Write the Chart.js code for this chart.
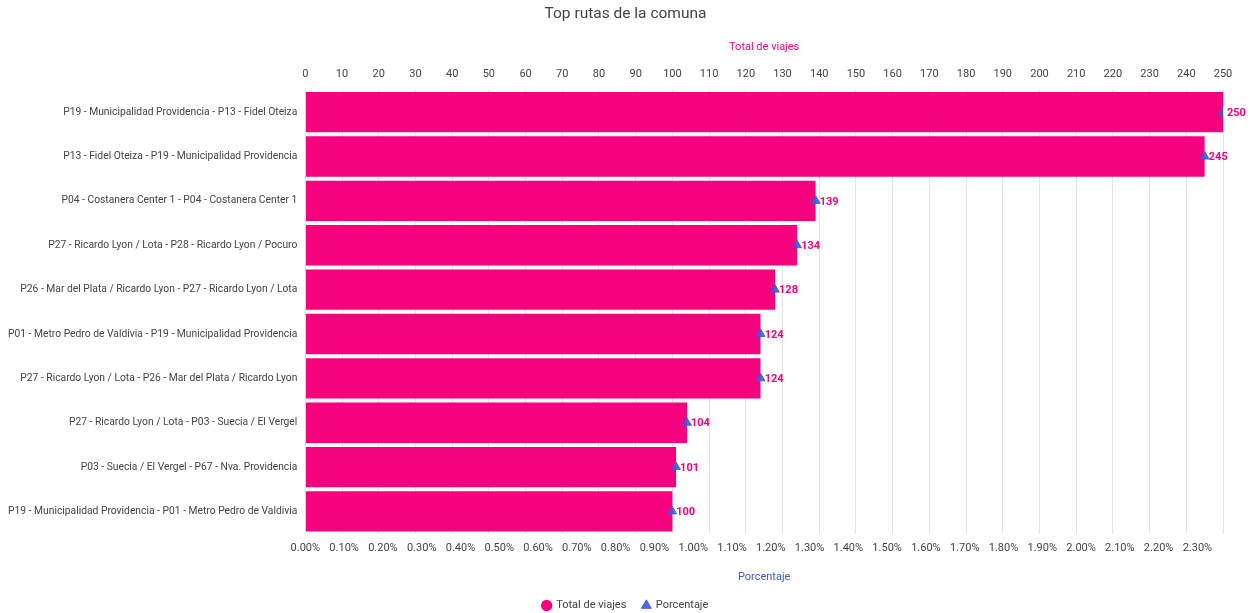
<!DOCTYPE html>
<html>
<head>
<meta charset="utf-8">
<title>Top rutas de la comuna</title>
<script src="https://cdn.jsdelivr.net/npm/chart.js@4"></script>
<style>
	html, body { margin: 0; padding: 0; background: #fff; }
	#wrap { width: 1255px; height: 613px; position: relative; }
</style>
</head>
<body>
<div id="wrap"><canvas id="chart"></canvas></div>
<script>
const rutas = [
	'P19 - Municipalidad Providencia - P13 - Fidel Oteiza',
	'P13 - Fidel Oteiza - P19 - Municipalidad Providencia',
	'P04 - Costanera Center 1 - P04 - Costanera Center 1',
	'P27 - Ricardo Lyon / Lota - P28 - Ricardo Lyon / Pocuro',
	'P26 - Mar del Plata / Ricardo Lyon - P27 - Ricardo Lyon / Lota',
	'P01 - Metro Pedro de Valdivia - P19 - Municipalidad Providencia',
	'P27 - Ricardo Lyon / Lota - P26 - Mar del Plata / Ricardo Lyon',
	'P27 - Ricardo Lyon / Lota - P03 - Suecia / El Vergel',
	'P03 - Suecia / El Vergel - P67 - Nva. Providencia',
	'P19 - Municipalidad Providencia - P01 - Metro Pedro de Valdivia'
];
const totalViajes = [250, 245, 139, 134, 128, 124, 124, 104, 101, 100];
const porcentaje = [2.366, 2.319, 1.316, 1.268, 1.211, 1.174, 1.174, 0.984, 0.956, 0.946];
const ticksViajes = [0, 10, 20, 30, 40, 50, 60, 70, 80, 90, 100, 110, 120, 130, 140, 150, 160, 170, 180, 190, 200, 210, 220, 230, 240, 250];
const ticksPorcentaje = [0, 0.1, 0.2, 0.3, 0.4, 0.5, 0.6, 0.7, 0.8, 0.9, 1.0, 1.1, 1.2, 1.3, 1.4, 1.5, 1.6, 1.7, 1.8, 1.9, 2.0, 2.1, 2.2, 2.3];

const PINK = '#f5037f';
const BLUE = '#3b5bdb';
const FONT = 'Roboto, "Noto Sans", sans-serif';

Chart.defaults.font.family = FONT;
Chart.defaults.color = '#444';

// value next to each triangle, taken from the bar dataset
const valueLabels = {
	id: 'valueLabels',
	afterDatasetsDraw(chart){
		const ctx = chart.ctx;
		const meta = chart.getDatasetMeta(1);
		ctx.save();
		ctx.font = 'bold 11px ' + FONT;
		ctx.fillStyle = PINK;
		ctx.textAlign = 'left';
		ctx.textBaseline = 'middle';
		meta.data.forEach((pt, i)=>{
			ctx.fillText(totalViajes[i], pt.x + 4, pt.y + 1);
		});
		ctx.restore();
	}
};

new Chart(document.getElementById('chart'), {
	type: 'bar',
	data: {
		labels: rutas,
		datasets: [
			{
				label: 'Total de viajes',
				data: totalViajes,
				backgroundColor: PINK,
				xAxisID: 'x',
				barPercentage: 0.91,
				categoryPercentage: 1,
				pointStyle: 'circle',
				order: 2
			},
			{
				type: 'line',
				label: 'Porcentaje',
				data: porcentaje,
				xAxisID: 'x2',
				indexAxis: 'y',
				showLine: false,
				pointStyle: 'triangle',
				pointRadius: 5,
				pointHoverRadius: 5,
				backgroundColor: 'rgba(59,91,219,0.9)',
				borderColor: 'rgba(59,91,219,0.9)',
				borderWidth: 1,
				order: 1
			}
		]
	},
	options: {
		indexAxis: 'y',
		responsive: true,
		maintainAspectRatio: false,
		animation: false,
		// legend sits close to the bottom edge, hence the negative bottom padding
		layout: { padding: { left: 0, right: 4, top: 2, bottom: -8 } },
		scales: {
			x: {
				position: 'top',
				min: 0,
				max: 250,
				afterBuildTicks: (axis)=>{ axis.ticks = ticksViajes.map(v => ({ value: v })); },
				afterFit: (axis)=>{ axis.paddingRight = 32; },
				grid: { color: '#e4e4e4', drawTicks: false },
				border: { display: false },
				ticks: { font: { size: 11 }, color: '#444', padding: 9 },
				title: { display: true, text: 'Total de viajes', color: PINK, font: { size: 11 }, padding: { top: 0, bottom: 5 } }
			},
			x2: {
				position: 'bottom',
				min: 0,
				max: 2.366,
				afterBuildTicks: (axis)=>{ axis.ticks = ticksPorcentaje.map(v => ({ value: v })); },
				grid: { display: false, drawTicks: false },
				border: { display: false },
				ticks: {
					font: { size: 11 },
					color: '#444',
					padding: 8,
					callback: (v)=> v.toFixed(2) + '%'
				},
				title: { display: true, text: 'Porcentaje', color: BLUE, font: { size: 11 }, padding: { top: 8, bottom: 0 } }
			},
			y: {
				grid: { display: false, drawTicks: false },
				border: { display: false },
				ticks: { font: { size: 10.3 }, color: '#444', padding: 8 }
			}
		},
		plugins: {
			title: {
				display: true,
				text: 'Top rutas de la comuna',
				color: '#444',
				font: { size: 15.5, weight: 'normal' },
				padding: { top: 3, bottom: 17 }
			},
			legend: {
				position: 'bottom',
				labels: {
					usePointStyle: true,
					boxWidth: 8,
					boxHeight: 8,
					padding: 16,
					font: { size: 11 },
					color: '#444',
					sort: (a, b)=> a.datasetIndex - b.datasetIndex
				}
			},
			tooltip: { enabled: false }
		}
	},
	plugins: [valueLabels]
});
</script>
</body>
</html>
